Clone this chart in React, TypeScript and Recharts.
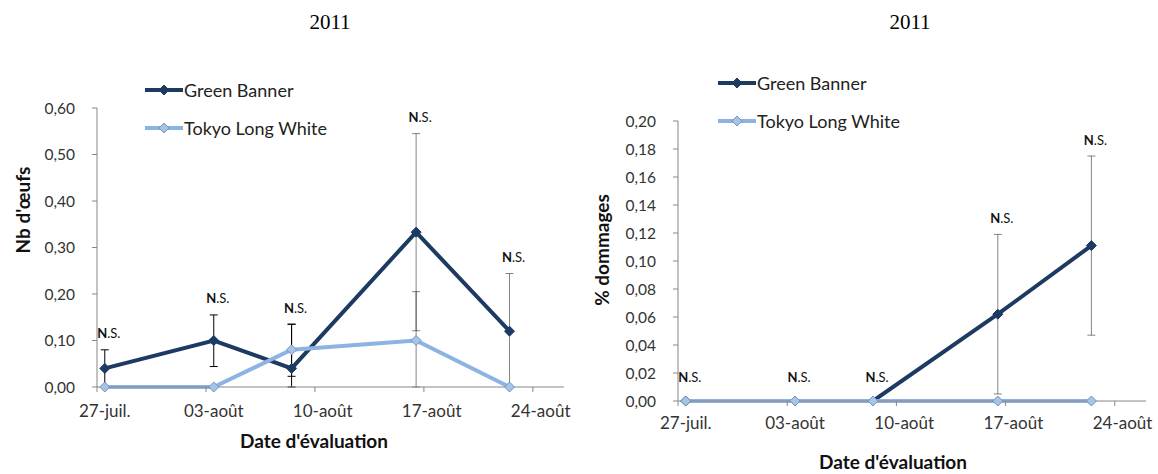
import React from "react";
import {
  LineChart,
  Line,
  XAxis,
  YAxis,
  ErrorBar,
  ReferenceDot,
  Legend,
} from "recharts";

// evaluation dates, as days after 27 juillet 2011
const evalDays = [0, 7, 12, 20, 26];
// weekly labels on the date axis (day of each label)
const labelDays = [0, 7, 14, 21, 28];
const dateLabels = ["27-juil.", "03-août", "10-août", "17-août", "24-août"];

// left chart: Nb d'oeufs
const gbEggs = [0.04, 0.1, 0.04, 0.333, 0.12];
const tlwEggs = [0, 0, 0.08, 0.1, 0];
// error bars as [below, above]; dark ones and grey ones
const gbEggsErrDark = [[0.04, 0.04], [0.056, 0.055], [0.04, 0.095], null, null];
const gbEggsErrGrey = [null, null, null, [0.212, 0.212], [0.12, 0.124]];
const tlwEggsErrDark = [null, null, [0.057, 0.055], null, null];
const tlwEggsErrGrey = [null, null, null, [0.1, 0.105], null];

// right chart: % dommages
const gbDamage = [0, 0, 0, 0.062, 0.111];
const tlwDamage = [0, 0, 0, 0, 0];
const gbDamageErrGrey = [null, null, null, [0.057, 0.057], [0.064, 0.064]];

const eggTicks = [0, 0.1, 0.2, 0.3, 0.4, 0.5, 0.6];
const damageTicks = [0, 0.02, 0.04, 0.06, 0.08, 0.1, 0.12, 0.14, 0.16, 0.18, 0.2];

const GB = "#1D3A62";
const TLW = "#8DB3E2";
const FONT = "Lato, 'Open Sans', sans-serif";

const eggData = evalDays.map((d, i) => ({
  day: d,
  gb: gbEggs[i],
  tlw: tlwEggs[i],
  gbDark: gbEggsErrDark[i],
  gbGrey: gbEggsErrGrey[i],
  tlwDark: tlwEggsErrDark[i],
  tlwGrey: tlwEggsErrGrey[i],
}));

const damageData = evalDays.map((d, i) => ({
  day: d,
  gb: gbDamage[i],
  tlw: tlwDamage[i],
  gbGrey: gbDamageErrGrey[i],
}));

// top of the highest bar (or point) at each date, for the N.S. marks
const topOf = (row: any) => {
  let top = Math.max(row.gb, row.tlw);
  for (const k of ["gbDark", "gbGrey"]) if (row[k]) top = Math.max(top, row.gb + row[k][1]);
  for (const k of ["tlwDark", "tlwGrey"]) if (row[k]) top = Math.max(top, row.tlw + row[k][1]);
  return top;
};

const fmt = (v: number) => v.toFixed(2).replace(".", ",");

const Diamond = ({ cx, cy, fill, stroke }: any) => {
  if (cx == null || cy == null) return null;
  const r = 5;
  return (
    <polygon
      points={`${cx},${cy - r} ${cx + r},${cy} ${cx},${cy + r} ${cx - r},${cy}`}
      fill={fill}
      stroke={stroke}
      strokeWidth={1}
    />
  );
};

const gbDot = (p: any) => <Diamond key={`g${p.index}`} cx={p.cx} cy={p.cy} fill={GB} stroke={GB} />;
const tlwDot = (p: any) => <Diamond key={`t${p.index}`} cx={p.cx} cy={p.cy} fill="#A9C3E3" stroke="#6F95C6" />;

const makeDateTick = (halfDay: number) => (props: any) => {
  const { x, y, payload } = props;
  const i = labelDays.indexOf(payload.value + 0.5);
  return (
    <text x={x + halfDay} y={y} dy="0.71em" textAnchor="middle" fontSize={17} fill="#333" fontFamily={FONT}>
      {dateLabels[i]}
    </text>
  );
};

const NsMark = ({ cx, cy, zero }: any) => (
  <text x={cx + 4} y={cy - (zero ? 24 : 16)} dy="0.35em" textAnchor="middle" fontSize={13} fill="#111" fontFamily={FONT}>
    <tspan fontWeight="bold">N</tspan>.S.
  </text>
);

const legendItems = [
  { name: "Green Banner", color: GB, fill: GB, stroke: GB },
  { name: "Tokyo Long White", color: TLW, fill: "#A9C3E3", stroke: "#6F95C6" },
];

const LegendBox = () => (
  <div style={{ fontFamily: FONT, fontSize: 18, color: "#222" }}>
    {legendItems.map((it) => (
      <div key={it.name} style={{ display: "flex", alignItems: "center", height: 38 }}>
        <svg width={38} height={12}>
          <line x1={0} y1={6} x2={38} y2={6} stroke={it.color} strokeWidth={4} />
          <Diamond cx={19} cy={6} fill={it.fill} stroke={it.stroke} />
        </svg>
        <span style={{ marginLeft: 1 }}>{it.name}</span>
      </div>
    ))}
  </div>
);

const axisLine = { stroke: "#868686" };
const tickText = { fontSize: 15.5, fill: "#333", fontFamily: FONT };
const xTicks = labelDays.map((d) => d - 0.5);

const greyBar = { stroke: "#000", strokeOpacity: 0.48, strokeWidth: 1 };

const EggChart = () => (
  <LineChart width={579} height={474} data={eggData} margin={{ top: 32, right: 15, bottom: 57, left: 37 }}>
    <XAxis
      dataKey="day"
      type="number"
      domain={[-0.5, 29.5]}
      ticks={xTicks}
      interval={0}
      height={30}
      tickSize={5}
      tickMargin={13}
      axisLine={axisLine}
      tickLine={axisLine}
      tick={makeDateTick(7.78)}
    />
    <YAxis
      type="number"
      domain={[0, 0.6]}
      ticks={eggTicks}
      width={60}
      tickSize={5}
      tickMargin={17}
      tickFormatter={fmt}
      axisLine={axisLine}
      tickLine={axisLine}
      tick={tickText}
    />
    <Legend verticalAlign="top" content={<LegendBox />} wrapperStyle={{ position: "absolute", left: 145, top: 71, width: "auto" }} />
    <Line dataKey="gb" name="Green Banner" stroke={GB} strokeWidth={4} dot={gbDot} activeDot={false} isAnimationActive={false}>
      <ErrorBar dataKey="gbDark" direction="y" width={4} stroke="#000" strokeWidth={1} />
      <ErrorBar dataKey="gbGrey" direction="y" width={4} {...greyBar} />
    </Line>
    <Line dataKey="tlw" name="Tokyo Long White" stroke={TLW} strokeWidth={4} dot={tlwDot} activeDot={false} isAnimationActive={false}>
      <ErrorBar dataKey="tlwDark" direction="y" width={4} stroke="#000" strokeWidth={1} />
      <ErrorBar dataKey="tlwGrey" direction="y" width={4} {...greyBar} />
    </Line>
    {eggData.map((row) => (
      <ReferenceDot
        key={row.day}
        x={row.day}
        y={topOf(row)}
        r={0}
        shape={(p: any) => <NsMark cx={p.cx} cy={p.cy} zero={topOf(row) === 0} />}
      />
    ))}
  </LineChart>
);

const DamageChart = () => (
  <LineChart width={579} height={474} data={damageData} margin={{ top: 45, right: 12, bottom: 43, left: 39 }}>
    <XAxis
      dataKey="day"
      type="number"
      domain={[-0.5, 29.5]}
      ticks={xTicks}
      interval={0}
      height={30}
      tickSize={5}
      tickMargin={11}
      axisLine={axisLine}
      tickLine={axisLine}
      tick={makeDateTick(7.8)}
    />
    <YAxis
      type="number"
      domain={[0, 0.2]}
      ticks={damageTicks}
      width={60}
      tickSize={5}
      tickMargin={17}
      tickFormatter={fmt}
      axisLine={axisLine}
      tickLine={axisLine}
      tick={tickText}
    />
    <Legend verticalAlign="top" content={<LegendBox />} wrapperStyle={{ position: "absolute", left: 139, top: 64, width: "auto" }} />
    <Line dataKey="gb" name="Green Banner" stroke={GB} strokeWidth={4} dot={gbDot} activeDot={false} isAnimationActive={false}>
      <ErrorBar dataKey="gbGrey" direction="y" width={4} {...greyBar} />
    </Line>
    <Line dataKey="tlw" name="Tokyo Long White" stroke={TLW} strokeWidth={4} dot={tlwDot} activeDot={false} isAnimationActive={false} />
    {damageData.map((row) => (
      <ReferenceDot
        key={row.day}
        x={row.day}
        y={topOf(row)}
        r={0}
        shape={(p: any) => <NsMark cx={p.cx} cy={p.cy} zero={topOf(row) === 0} />}
      />
    ))}
  </LineChart>
);

const title: React.CSSProperties = {
  position: "absolute",
  fontFamily: "'Liberation Serif', 'Times New Roman', serif",
  fontSize: 21,
  color: "#000",
  transform: "translate(-50%, -50%)",
  whiteSpace: "nowrap",
};

const axisTitle: React.CSSProperties = {
  position: "absolute",
  fontFamily: FONT,
  fontWeight: "bold",
  fontSize: 19,
  color: "#111",
  whiteSpace: "nowrap",
};

export default function App() {
  return (
    <div style={{ position: "absolute", left: 0, top: 0, width: 1158, height: 474, background: "#fff", overflow: "hidden" }}>
      <div style={{ position: "absolute", left: 0, top: 0 }}>
        <EggChart />
      </div>
      <div style={{ position: "absolute", left: 579, top: 0 }}>
        <DamageChart />
      </div>
      <div style={{ ...title, left: 330, top: 22 }}>2011</div>
      <div style={{ ...title, left: 910, top: 22 }}>2011</div>
      <div style={{ ...axisTitle, left: 314, top: 440, transform: "translate(-50%, -50%)" }}>Date d'évaluation</div>
      <div style={{ ...axisTitle, left: 893, top: 461, transform: "translate(-50%, -50%)" }}>Date d'évaluation</div>
      <div style={{ ...axisTitle, left: 22, top: 210, transform: "translate(-50%, -50%) rotate(-90deg)" }}>Nb d'œufs</div>
      <div style={{ ...axisTitle, left: 601, top: 250, transform: "translate(-50%, -50%) rotate(-90deg)" }}>% dommages</div>
    </div>
  );
}
